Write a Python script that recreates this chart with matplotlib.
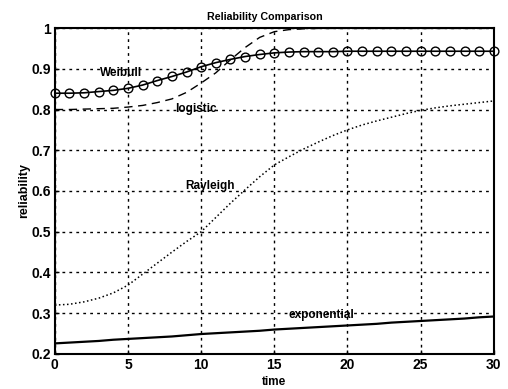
import matplotlib
matplotlib.use("Agg")
import matplotlib.pyplot as plt

t = list(range(31))
weibull = [0.840, 0.840, 0.841, 0.844, 0.847, 0.852, 0.860, 0.871, 0.881, 0.892,
           0.905, 0.915, 0.923, 0.930, 0.935, 0.939, 0.941, 0.942, 0.942, 0.942,
           0.943, 0.943, 0.943, 0.943, 0.943, 0.943, 0.943, 0.943, 0.943, 0.943, 0.943]
logistic = [0.800, 0.800, 0.801, 0.802, 0.803, 0.806, 0.810, 0.817, 0.826, 0.842,
            0.865, 0.890, 0.922, 0.952, 0.977, 0.991, 0.996, 0.998, 0.999, 0.999,
            0.999, 0.999, 0.999, 0.999, 0.999, 0.999, 0.999, 0.999, 0.999, 0.999, 0.999]
rayleigh = [0.320, 0.322, 0.328, 0.337, 0.350, 0.369, 0.396, 0.423, 0.450, 0.476,
            0.500, 0.535, 0.570, 0.603, 0.635, 0.664, 0.684, 0.703, 0.720, 0.736,
            0.750, 0.762, 0.772, 0.781, 0.790, 0.798, 0.804, 0.809, 0.813, 0.817, 0.821]
exponential = [0.226, 0.228, 0.230, 0.232, 0.235, 0.237, 0.239, 0.241, 0.243, 0.246,
               0.249, 0.251, 0.253, 0.255, 0.257, 0.260, 0.262, 0.264, 0.266, 0.268,
               0.270, 0.272, 0.274, 0.277, 0.279, 0.281, 0.283, 0.285, 0.287, 0.290, 0.292]

labels = ["Weibull", "logistic", "Rayleigh", "exponential"]
label_x = [3.1, 8.2, 8.9, 16.0]
label_y = [0.890, 0.801, 0.612, 0.296]

plt.rcParams['font.family'] = ['Liberation Sans', 'DejaVu Sans']
fig = plt.figure(figsize=(5.08, 3.89), dpi=100)
ax = fig.add_axes([0.108, 0.09, 0.864, 0.838])

ax.plot(t, weibull, '-o', color='black', lw=1.2, markersize=6.3,
        markerfacecolor='none', markeredgewidth=1.0, clip_on=False, zorder=3)
ax.plot(t, logistic, '--', color='black', lw=1.0, dashes=(6, 4), clip_on=False)
ax.plot(t, rayleigh, ':', color='black', lw=1.1)
ax.plot(t, exponential, '-', color='black', lw=1.6)

for s, x, y in zip(labels, label_x, label_y):
    ax.text(x, y, s, fontsize=8.5, fontweight='bold', va='center', ha='left')

ax.set_xlim(0, 30)
ax.set_ylim(0.2, 1.0)
ax.set_xticks([0, 5, 10, 15, 20, 25, 30])
ax.set_yticks([0.2, 0.3, 0.4, 0.5, 0.6, 0.7, 0.8, 0.9, 1.0])
ax.set_yticklabels(['0.2', '0.3', '0.4', '0.5', '0.6', '0.7', '0.8', '0.9', '1'])
ax.grid(True, color='black', linestyle=(0, (2, 3)), linewidth=1.0)
ax.tick_params(direction='in', length=3, width=1, labelsize=10, pad=3)
for lab in ax.get_xticklabels() + ax.get_yticklabels():
    lab.set_fontweight('bold')
for sp in ax.spines.values():
    sp.set_linewidth(1.5)

ax.set_title('Reliability Comparison', fontsize=7.7, fontweight='bold', pad=6, x=0.478)
ax.set_xlabel('time', fontsize=8.5, fontweight='bold', labelpad=3)
ax.set_ylabel('reliability', fontsize=9, fontweight='bold', labelpad=1)

fig.savefig('out.png', dpi=100)
